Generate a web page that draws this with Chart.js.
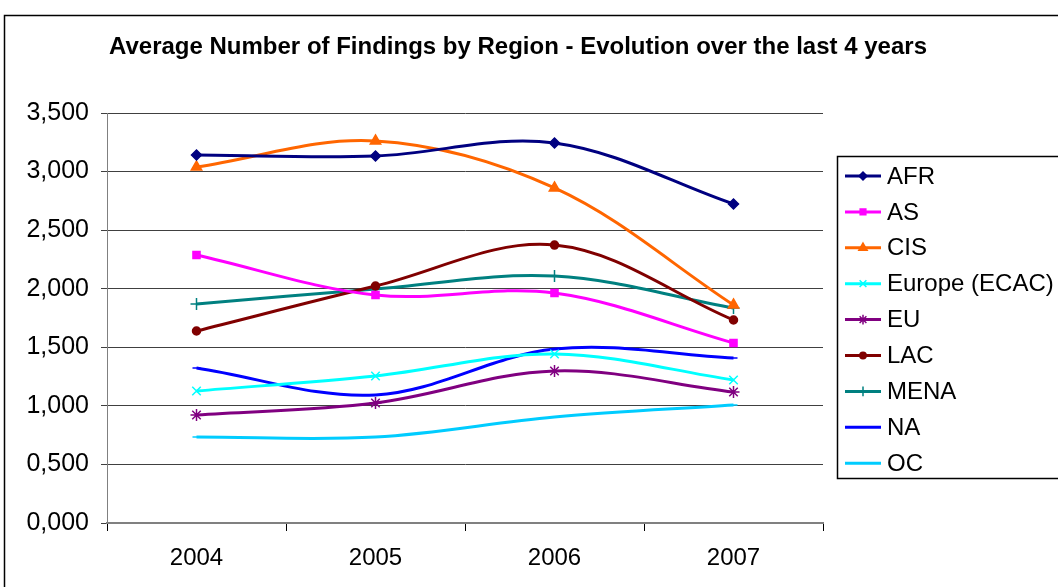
<!DOCTYPE html>
<html>
<head>
<meta charset="utf-8">
<script src="https://cdn.jsdelivr.net/npm/chart.js@4/dist/chart.umd.min.js"></script>
<style>
  html, body { margin: 0; padding: 0; background: #fff; }
  #wrap { width: 1058px; height: 587px; position: relative; }
</style>
</head>
<body>
<div id="wrap"><canvas id="chart1"></canvas></div>
<script>
const years = ['2004', '2005', '2006', '2007'];
const yTickLabels = ['0,000', '0,500', '1,000', '1,500', '2,000', '2,500', '3,000', '3,500'];

const afr = [3141, 3133, 3244, 2723];
const as = [2288, 1946, 1963, 1537];
const cis = [3039, 3261, 2860, 1861];
const europe = [1127, 1255, 1443, 1221];
const eu = [922, 1024, 1298, 1118];
const lac = [1639, 2023, 2373, 1733];
const mena = [1870, 1998, 2108, 1835];
const na = [1323, 1093, 1485, 1409];
const oc = [734, 734, 905, 1007];

const titleText = 'Average Number of Findings by Region - Evolution over the last 4 years';
const FONT = '"Liberation Sans", Arial, sans-serif';

function series(label, data, color, style, radius) {
    return {
        label: label,
        data: data,
        borderColor: color,
        backgroundColor: color,
        borderWidth: 3,
        pointStyle: style,
        pointRadius: radius,
        pointBorderWidth: 1.5,
        tension: 0.35,
        fill: false
    };
}

// title, outer frame and the boxed legend
const decor = {
    id: 'decor',
    afterDraw(chart) {
        const c = chart.ctx;
        c.save();
        c.strokeStyle = '#000';
        c.lineWidth = 1.5;
        c.strokeRect(4.5, 15.5, 1200, 700);

        c.fillStyle = '#000';
        c.font = 'bold 24px ' + FONT;
        c.textAlign = 'center';
        c.textBaseline = 'middle';
        c.fillText(titleText, 518, 47);

        // legend box
        c.lineWidth = 1.5;
        c.strokeStyle = '#000';
        c.strokeRect(837.5, 156.5, 400, 322);
        c.font = '24px ' + FONT;
        c.textAlign = 'left';
        chart.data.datasets.forEach((ds, i) => {
            const y = 176 + i * 35.9;
            c.strokeStyle = ds.borderColor;
            c.fillStyle = ds.borderColor;
            c.lineWidth = 3;
            c.beginPath();
            c.moveTo(845, y);
            c.lineTo(881, y);
            c.stroke();
            c.lineWidth = 1.5;
            Chart.helpers.drawPoint(c, {
                pointStyle: ds.pointStyle,
                radius: ds.pointRadius * 0.8,
                borderWidth: 1.5,
                rotation: 0
            }, 863, y);
            c.fillStyle = '#000';
            c.fillText(ds.label, 887, y + 1);
        });
        c.restore();
    }
};

const ctx1 = document.getElementById('chart1').getContext('2d');
const chart1 = new Chart(ctx1, {
    type: 'line',
    data: {
        labels: years,
        datasets: [
            series('AFR', afr, '#000080', 'rectRot', 5),
            series('AS', as, '#FF00FF', 'rect', 5),
            series('CIS', cis, '#FF6600', 'triangle', 6),
            series('Europe (ECAC)', europe, '#00FFFF', 'crossRot', 6),
            series('EU', eu, '#800080', 'star', 6),
            series('LAC', lac, '#800000', 'circle', 4),
            series('MENA', mena, '#008080', 'cross', 6),
            series('NA', na, '#0000FF', 'line', 4),
            series('OC', oc, '#00CCFF', 'line', 4)
        ]
    },
    options: {
        responsive: true,
        maintainAspectRatio: false,
        animation: false,
        layout: { padding: { left: 0, top: 113, right: 235, bottom: 0 } },
        plugins: {
            legend: { display: false },
            title: { display: false },
            tooltip: { enabled: false }
        },
        scales: {
            x: {
                offset: true,
                afterFit(scale) { scale.height = 64; },
                grid: {
                    offset: true,
                    drawOnChartArea: false,
                    color: '#000',
                    tickLength: 8
                },
                border: { color: '#808080', width: 2 },
                ticks: {
                    color: '#000',
                    padding: 13,
                    font: { family: FONT, size: 24 }
                }
            },
            y: {
                min: 0,
                max: 3500,
                afterFit(scale) { scale.width = 107; },
                grid: {
                    color: '#404040',
                    lineWidth: 1,
                    tickLength: 6
                },
                border: { color: '#808080', width: 1 },
                ticks: {
                    stepSize: 500,
                    color: '#000',
                    padding: 12,
                    font: { family: FONT, size: 25 },
                    callback: (v) => yTickLabels[Math.round(v / 500)]
                }
            }
        }
    },
    plugins: [decor]
});
</script>
</body>
</html>
